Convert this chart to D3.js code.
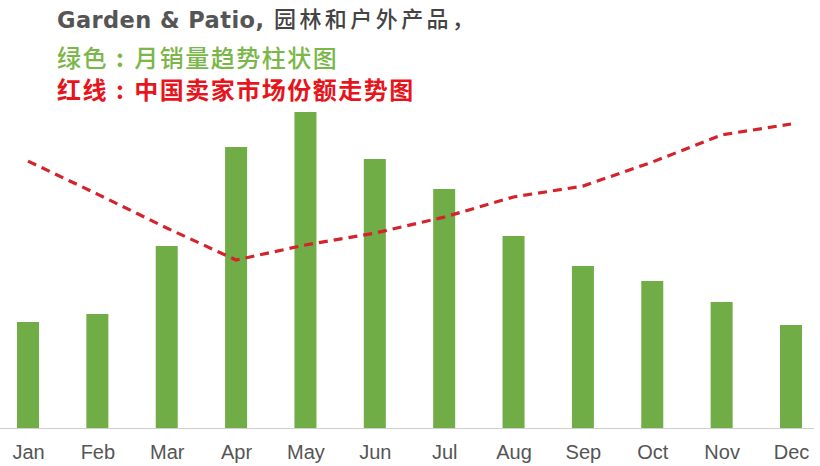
<!DOCTYPE html>
<html><head><meta charset="utf-8">
<script src="https://cdn.jsdelivr.net/npm/d3@7/dist/d3.min.js"></script>
<style>body{margin:0;background:#fff;}svg{display:block;}</style>
</head><body>
<svg id="c" width="820" height="466"></svg>
<script>
const months = ["Jan","Feb","Mar","Apr","May","Jun","Jul","Aug","Sep","Oct","Nov","Dec"];
const sales = [106,114,182,281,316,269,239,192,162,147,126,103];
const share = [83.4,73.1,62.5,52.5,57.2,60.9,65.9,72.2,75.6,83.1,91.6,95.0];
const titleEn = "Garden & Patio,";
const titleCn = "园林和户外产品，";
const legendGreen = ["绿色", ":", "月销量趋势柱状图"];
const legendRed = ["红线", ":", "中国卖家市场份额走势图"];

const svg = d3.select("#c");
const baseY = 428;
const x = d3.scalePoint().domain(months).range([28, 791]);
const y = d3.scaleLinear().domain([0, 320]).range([baseY, 108]);
const y2 = d3.scaleLinear().domain([0, 100]).range([baseY, 108]);
const barW = 22;
const cjk = "'Noto Sans CJK SC', sans-serif";

// axis line
svg.append("line").attr("x1",0).attr("x2",814).attr("y1",baseY+0.5).attr("y2",baseY+0.5)
  .attr("stroke","#cfcfcf").attr("stroke-width",1.2);

// bars
svg.selectAll("rect.bar").data(sales).enter().append("rect")
  .attr("class","bar")
  .attr("x",(d,i)=>x(months[i])-barW/2)
  .attr("y",d=>y(d))
  .attr("width",barW)
  .attr("height",d=>baseY-y(d))
  .attr("fill","#70ad47");

// line
const line = d3.line().x((d,i)=>x(months[i])).y(d=>y2(d)).curve(d3.curveLinear);
svg.append("path").datum(share).attr("d",line)
  .attr("fill","none").attr("stroke","#d4232b").attr("stroke-width",3.2)
  .attr("stroke-dasharray","9,6");

// x labels
const axis = d3.axisBottom(x).tickSize(0).tickPadding(0);
const g = svg.append("g").attr("transform",`translate(0,${baseY})`).call(axis);
g.select(".domain").remove();
g.selectAll("text").attr("dy",0).attr("y",31)
  .style("font-family","'Liberation Sans', Arial, sans-serif")
  .style("font-size","20px").attr("fill","#555");

// titles
svg.append("text").attr("x",57).attr("y",28).text(titleEn)
  .attr("textLength",207).attr("lengthAdjust","spacing")
  .style("font-family","'DejaVu Sans', sans-serif").style("font-weight","bold")
  .style("font-size","22.5px").attr("fill","#555");
svg.append("text").attr("x",274).attr("y",27).text(titleCn)
  .attr("textLength",200).attr("lengthAdjust","spacing")
  .style("font-family",cjk).style("font-weight","500")
  .style("font-size","22px").attr("fill","#444");

function legend(parts, yy, color, weight){
  const t = svg.append("text").attr("x",57).attr("y",yy)
    .style("font-family",cjk)
    .style("font-size","24px").style("letter-spacing","1.5px")
    .style("font-weight",weight).attr("fill",color);
  t.append("tspan").text(parts[0]);
  t.append("tspan").text(parts[1]).attr("dx",8).style("font-weight","bold");
  t.append("tspan").text(parts[2]).attr("dx",9);
}
legend(legendGreen, 67, "#7ab648", "500");
legend(legendRed, 99, "#e8141c", "bold");
</script>
</body></html>
